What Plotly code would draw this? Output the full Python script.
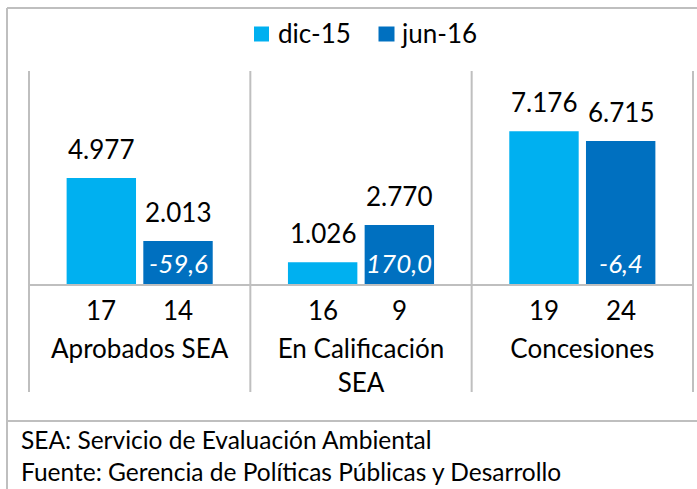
import plotly.graph_objects as go

# ---------------- data ----------------
categories = ["Aprobados SEA", "En Calificación<br>SEA", "Concesiones"]
series_names = ["dic-15", "jun-16"]
amount_dic15 = [4977, 1026, 7176]      # millones de US$
amount_jun16 = [2013, 2770, 6715]
projects_dic15 = [17, 16, 19]          # número de proyectos
projects_jun16 = [14, 9, 24]
variation_pct = [-59.6, 170.0, -6.4]   # variación %
notes = ["SEA: Servicio de Evaluación Ambiental",
         "Fuente: Gerencia de Políticas Públicas y Desarrollo"]

# ---------------- style ----------------
COLORS = ["#00B0F0", "#0070C0"]
GREY = "#BFBFBF"
FONT = "Lato"
W, H = 697, 489
ML, MR, MT, MB = 29, 4, 71, 205
PW, PH = W - ML - MR, H - MT - MB
BARGAP, GROUPGAP = 0.307, 0.095


def px(x):
    return (x - ML) / PW


def py(y):
    return (H - MB - y) / PH


def thousands(v):
    return f"{v:,}".replace(",", ".")


def dec(v):
    return f"{v:.1f}".replace(".", ",")


fig = go.Figure()
series = [amount_dic15, amount_jun16]
for name, vals, col in zip(series_names, series, COLORS):
    fig.add_trace(go.Bar(x=categories, y=vals, name=name, marker_color=col,
                         marker_line_width=0, showlegend=False, hoverinfo="skip"))

cat_w = PW / len(categories)
slot = cat_w * (1 - BARGAP) / 2
shifts = [-slot / 2, slot / 2]

ann = []
for i, cat in enumerate(categories):
    for s, vals in enumerate(series):
        ann.append(dict(x=cat, y=vals[i], xref="x", yref="y", text=thousands(vals[i]),
                        xshift=shifts[s], yshift=11, yanchor="bottom", showarrow=False,
                        font=dict(family=FONT, size=26, color="#000000")))
    for s, cnt in enumerate([projects_dic15, projects_jun16]):
        ann.append(dict(x=cat, y=0, xref="x", yref="y", text=str(cnt[i]),
                        xshift=shifts[s], yshift=-26, yanchor="middle", showarrow=False,
                        font=dict(family=FONT, size=26, color="#000000")))
    ann.append(dict(x=cat, y=0, xref="x", yref="y", text=dec(variation_pct[i]),
                    xshift=shifts[1], yshift=21, yanchor="middle", showarrow=False,
                    font=dict(family=FONT, size=26, color="#FFFFFF", style="italic")))

# legend (manual)
leg_sq = [(254, 269), (378.5, 394.5)]
leg_tx = [276, 399]
shapes = []
for (x0, x1), tx, name, col in zip(leg_sq, leg_tx, series_names, COLORS):
    shapes.append(dict(type="rect", xref="paper", yref="paper", x0=px(x0), x1=px(x1),
                       y0=py(41.5), y1=py(26.5), fillcolor=col, line_width=0))
    ann.append(dict(x=px(tx), y=py(33), xref="paper", yref="paper", text=name,
                    xanchor="left", yanchor="middle", showarrow=False,
                    font=dict(family=FONT, size=26, color="#000000")))

# notes
for k, note in enumerate(notes):
    ann.append(dict(x=px(19), y=py(439 + 33 * k), xref="paper", yref="paper", text=note,
                    xanchor="left", yanchor="middle", showarrow=False,
                    font=dict(family=FONT, size=24.5, color="#000000")))

# category dividers
for k in range(len(categories) + 1):
    shapes.append(dict(type="line", xref="paper", yref="paper", x0=k / len(categories),
                       x1=k / len(categories), y0=py(392), y1=1,
                       line=dict(color=GREY, width=2)))
# frame
shapes.append(dict(type="line", xref="paper", yref="paper", x0=px(7), x1=px(7),
                   y0=py(H + 5), y1=py(8), line=dict(color=GREY, width=2)))
shapes.append(dict(type="line", xref="paper", yref="paper", x0=px(7), x1=px(W + 5),
                   y0=py(8), y1=py(8), line=dict(color=GREY, width=2)))
shapes.append(dict(type="line", xref="paper", yref="paper", x0=px(7), x1=px(W + 5),
                   y0=py(421), y1=py(421), line=dict(color=GREY, width=2)))

fig.update_layout(
    width=W, height=H, margin=dict(l=ML, r=MR, t=MT, b=MB),
    paper_bgcolor="white", plot_bgcolor="white",
    barmode="group", bargap=BARGAP, bargroupgap=GROUPGAP,
    separators=",.",
    font=dict(family=FONT, size=26, color="#000000"),
    annotations=ann, shapes=shapes,
    xaxis=dict(showline=True, linecolor=GREY, linewidth=2, showgrid=False, ticks="",
               ticklabelstandoff=41, tickfont=dict(family=FONT, size=26, color="#000000"),
               fixedrange=True),
    yaxis=dict(range=[0, 10000], visible=False, fixedrange=True),
)

fig.write_html("out.html", config={"displayModeBar": False},
               post_script="document.body.style.margin='0px';")
